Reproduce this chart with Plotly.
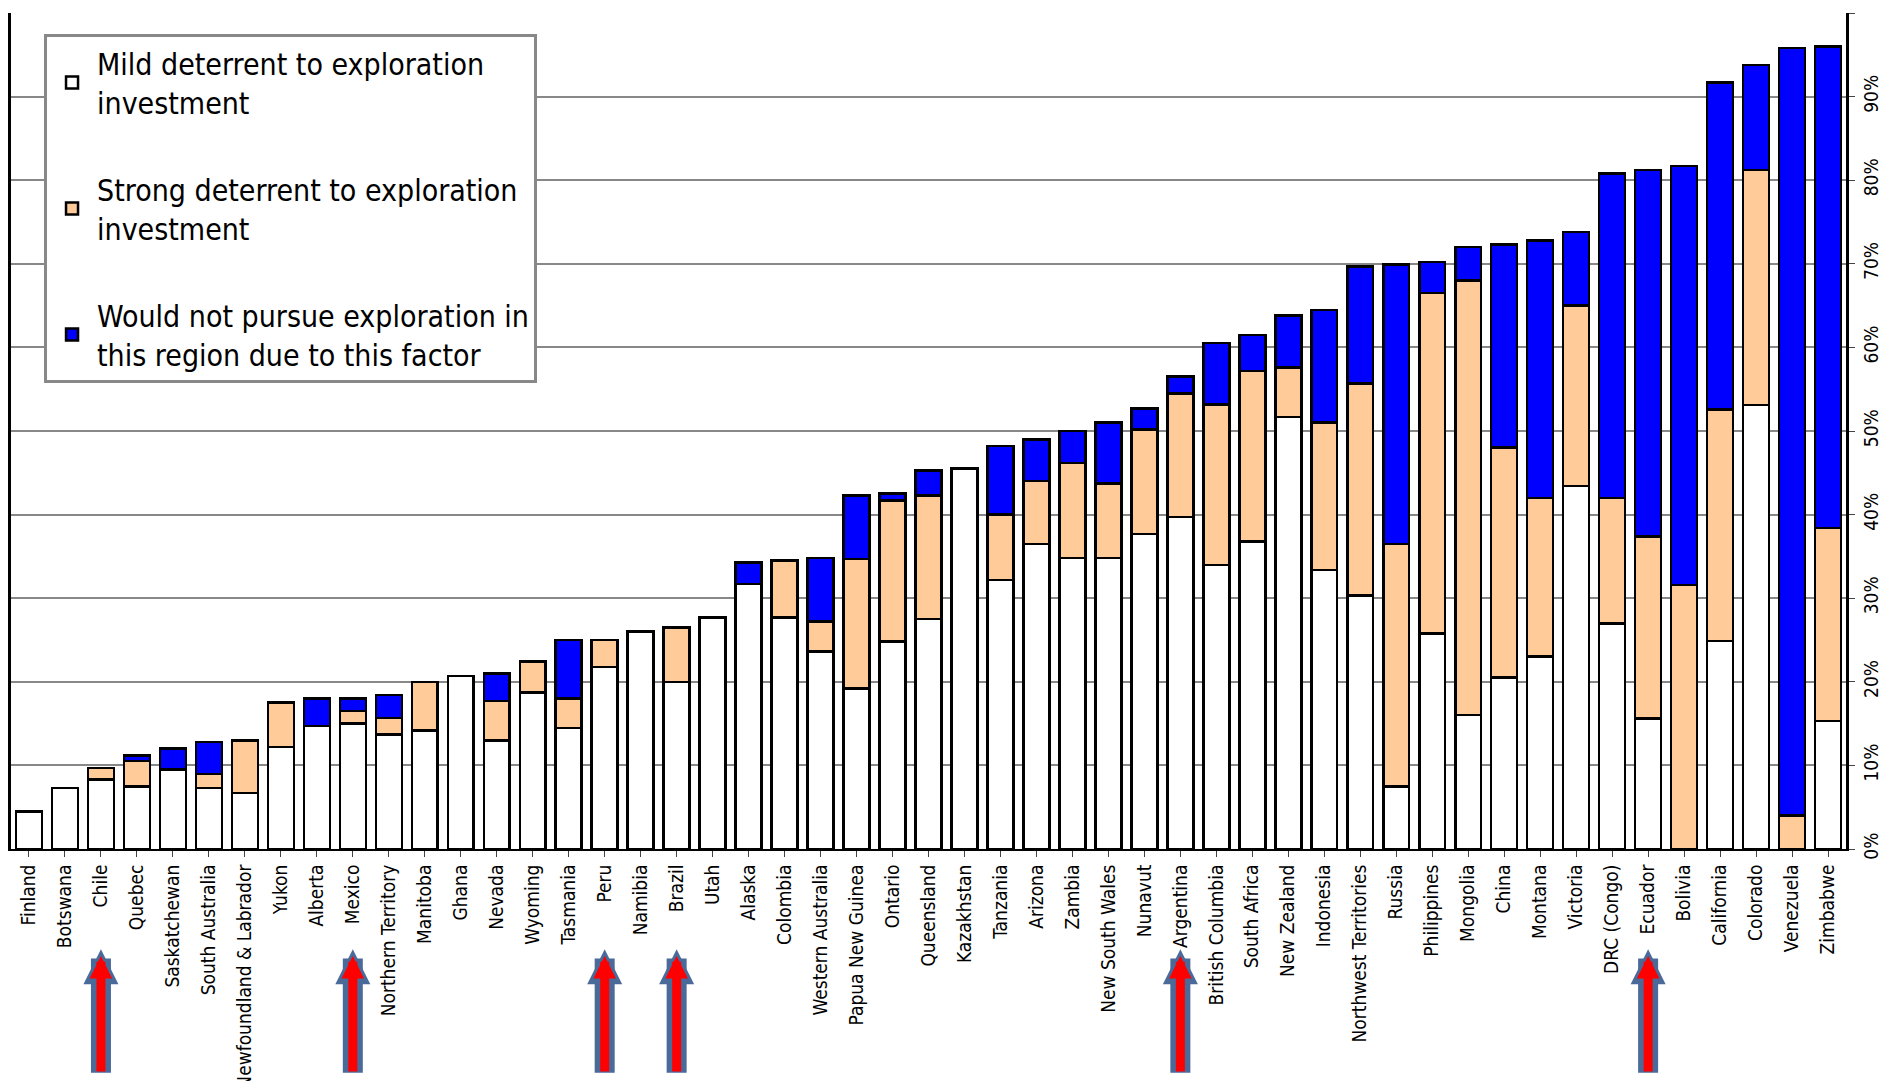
import plotly.graph_objects as go

regions = ["Finland", "Botswana", "Chile", "Quebec", "Saskatchewan", "South Australia",
           "Newfoundland & Labrador", "Yukon", "Alberta", "Mexico", "Northern Territory",
           "Manitoba", "Ghana", "Nevada", "Wyoming", "Tasmania", "Peru", "Namibia", "Brazil",
           "Utah", "Alaska", "Colombia", "Western Australia", "Papua New Guinea", "Ontario",
           "Queensland", "Kazakhstan", "Tanzania", "Arizona", "Zambia", "New South Wales",
           "Nunavut", "Argentina", "British Columbia", "South Africa", "New Zealand",
           "Indonesia", "Northwest Territories", "Russia", "Philippines", "Mongolia", "China",
           "Montana", "Victoria", "DRC (Congo)", "Ecuador", "Bolivia", "California",
           "Colorado", "Venezuela", "Zimbabwe"]

# cumulative tops (%)
mild_top = [4.5, 7.3, 8.3, 7.5, 9.5, 7.3, 6.7, 12.2, 14.7, 15.0, 13.7, 14.2, 20.7, 13.0, 18.7,
            14.5, 21.8, 26.0, 20.0, 27.7, 31.7, 27.7, 23.6, 19.2, 24.8, 27.5, 45.5, 32.2, 36.5,
            34.8, 34.8, 37.7, 39.7, 34.0, 36.8, 51.7, 33.4, 30.3, 7.5, 25.8, 16.0, 20.5, 23.0,
            43.4, 27.0, 15.6, 0.0, 24.9, 53.1, 0.0, 15.3]
strong_top = [4.5, 7.3, 9.7, 10.5, 9.5, 9.0, 13.0, 17.5, 14.7, 16.5, 15.7, 20.0, 20.7, 17.7, 22.4,
              18.0, 25.0, 26.0, 26.5, 27.7, 31.7, 34.5, 27.2, 34.7, 41.7, 42.3, 45.5, 40.0, 44.0,
              46.2, 43.7, 50.2, 54.5, 53.2, 57.2, 57.6, 51.0, 55.7, 36.5, 66.5, 68.0, 48.0, 42.0,
              65.0, 42.0, 37.4, 31.6, 52.6, 81.2, 4.0, 38.4]
total_top = [4.5, 7.3, 9.7, 11.2, 12.0, 12.8, 13.0, 17.5, 18.0, 18.0, 18.4, 20.0, 20.7, 21.0, 22.4,
             25.0, 25.0, 26.0, 26.5, 27.7, 34.3, 34.5, 34.8, 42.3, 42.5, 45.3, 45.5, 48.2, 49.0,
             50.0, 51.0, 52.7, 56.5, 60.5, 61.5, 63.8, 64.5, 69.7, 69.9, 70.2, 72.0, 72.3, 72.8,
             73.8, 80.8, 81.2, 81.7, 91.7, 93.8, 95.8, 96.0]
arrowed = ["Chile", "Mexico", "Peru", "Brazil", "Argentina", "Ecuador"]

mild = mild_top
strong = [round(s - m, 2) for s, m in zip(strong_top, mild_top)]
wouldnot = [round(t - s, 2) for t, s in zip(total_top, strong_top)]

font = "Liberation Sans Narrow, DejaVu Sans Condensed, Arial Narrow, sans-serif"
fig = go.Figure()
series = [("Mild deterrent to exploration<br>investment", mild, "white"),
          ("Strong deterrent to exploration<br>investment", strong, "#ffcc99"),
          ("Would not pursue exploration in<br>this region due to this factor", wouldnot, "#0000ff")]
for i, (name, vals, col) in enumerate(series):
    fig.add_trace(go.Bar(x=regions, y=vals, name=name, marker_color=col, legendgroup=str(i),
                         marker_line=dict(color="black", width=2.5), width=0.72))

for r in arrowed:
    fig.add_annotation(x=r, xref="x", y=-0.12, yref="paper", ax=0, ay=125,
                       showarrow=True, arrowhead=2, arrowsize=0.35, arrowwidth=20,
                       arrowcolor="#4a6a9a", text="")
    fig.add_annotation(x=r, xref="x", y=-0.128, yref="paper", ax=0, ay=117,
                       showarrow=True, arrowhead=2, arrowsize=0.5, arrowwidth=9,
                       arrowcolor="red", text="")

fig.update_layout(
    barmode="stack", width=1893, height=1081, plot_bgcolor="white", paper_bgcolor="white",
    margin=dict(l=0, r=55, t=5, b=230), bargap=0.28,
    font=dict(family=font, size=19, color="black"),
    legend=dict(x=0.018, y=0.975, xanchor="left", yanchor="top", traceorder="grouped",
                bgcolor="white", bordercolor="#888888", borderwidth=3,
                font=dict(size=30), tracegroupgap=45, itemwidth=40),
    showlegend=True,
)
fig.update_xaxes(tickangle=-90, showline=True, linecolor="black", linewidth=2,
                 ticks="outside", ticklen=6, tickfont=dict(size=19))
fig.update_yaxes(side="right", range=[0, 100], dtick=10, ticksuffix="%", tickangle=-90,
                 showgrid=True, gridcolor="#888888", gridwidth=1.5, showline=True,
                 linecolor="black", linewidth=3, mirror=True, ticks="outside", ticklen=6,
                 tickfont=dict(size=19), zeroline=False)
fig.write_html("out.html")
